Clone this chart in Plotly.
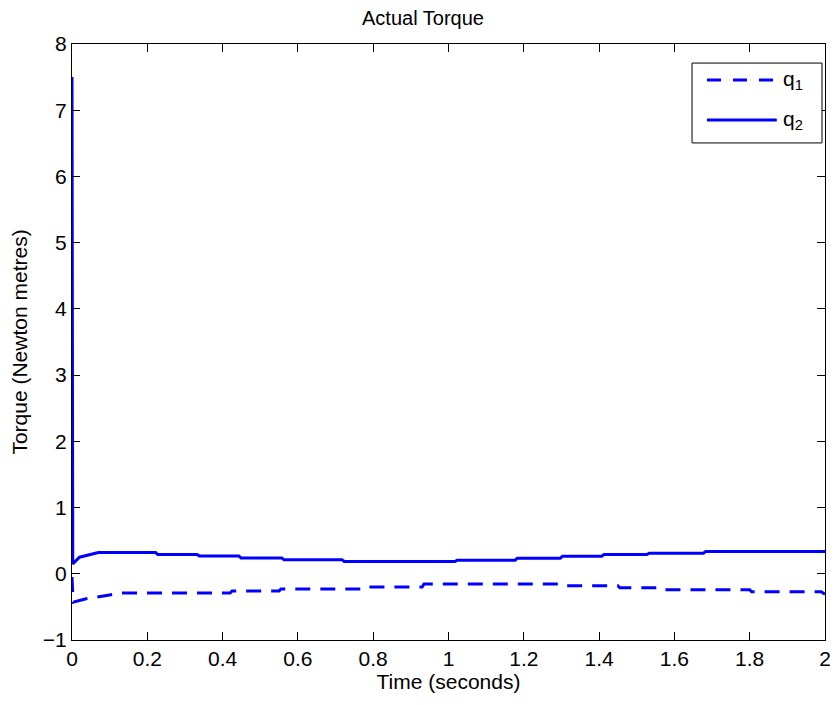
import plotly.graph_objects as go

# Joint 1 torque (dashed)
t_q1 = [0, 0.003, 0.035, 0.074, 0.10, 0.13, 0.42, 0.425, 0.55, 0.555, 0.78, 0.785, 0.93, 0.935,
        1.30, 1.305, 1.45, 1.455, 1.57, 1.575, 1.80, 1.805, 1.99, 2.0]
q1 = [-0.05, -0.43, -0.38, -0.35, -0.32, -0.29, -0.29, -0.26, -0.26, -0.23, -0.23, -0.20, -0.20, -0.155,
      -0.155, -0.18, -0.18, -0.21, -0.21, -0.24, -0.24, -0.27, -0.27, -0.31]

# Joint 2 torque (solid)
t_q2 = [0, 0.002, 0.02, 0.048, 0.07, 0.222, 0.228, 0.332, 0.338, 0.443, 0.449, 0.557, 0.563,
        0.717, 0.723, 1.017, 1.023, 1.177, 1.183, 1.297, 1.303, 1.407, 1.413, 1.527, 1.533,
        1.677, 1.683, 2.0]
q2 = [7.5, 0.15, 0.25, 0.29, 0.32, 0.32, 0.29, 0.29, 0.27, 0.27, 0.24, 0.24, 0.21,
      0.21, 0.185, 0.185, 0.205, 0.205, 0.235, 0.235, 0.265, 0.265, 0.29, 0.29, 0.31,
      0.31, 0.335, 0.335]

series_names = ["q<sub>1</sub>", "q<sub>2</sub>"]

x_ticks = [0, 0.2, 0.4, 0.6, 0.8, 1, 1.2, 1.4, 1.6, 1.8, 2]
x_labels = ["0", "0.2", "0.4", "0.6", "0.8", "1", "1.2", "1.4", "1.6", "1.8", "2"]
y_ticks = [-1, 0, 1, 2, 3, 4, 5, 6, 7, 8]

blue = "#0000ff"
font = "Liberation Sans, Arial, sans-serif"
fs = 21
dash_style = "15px,10px"

fig = go.Figure()
fig.add_trace(go.Scatter(x=t_q1, y=q1, mode="lines", name=series_names[0],
                         line=dict(color=blue, width=3, dash=dash_style)))
fig.add_trace(go.Scatter(x=t_q2, y=q2, mode="lines", name=series_names[1],
                         line=dict(color=blue, width=3)))

axis_common = dict(showline=True, linecolor="black", linewidth=1, mirror="ticks",
                   ticks="inside", ticklen=8, tickcolor="black", showgrid=False,
                   zeroline=False, automargin=False,
                   tickfont=dict(size=fs, color="black", family=font))

fig.update_layout(
    width=830, height=697,
    margin=dict(l=64, r=13, t=36, b=65),
    paper_bgcolor="white", plot_bgcolor="white",
    font=dict(family=font, color="black", size=fs),
    title=dict(text="Actual Torque", x=0.5, xanchor="center", y=0.986, yanchor="middle",
               font=dict(size=20, family=font, color="black")),
    xaxis=dict(range=[0, 2], tickvals=x_ticks, ticktext=x_labels,
               title=dict(text="Time (seconds)", standoff=4, font=dict(size=fs)), **axis_common),
    yaxis=dict(range=[-1, 8], tickvals=y_ticks,
               title=dict(text="Torque (Newton metres)", standoff=12, font=dict(size=fs)), **axis_common),
    showlegend=False,
)

# Custom legend box (paper coordinates)
bx0, bx1, by0, by1 = 0.8234, 0.996, 0.834, 0.968
fig.add_shape(type="rect", xref="paper", yref="paper", x0=bx0, x1=bx1, y0=by0, y1=by1,
              line=dict(color="black", width=1), fillcolor="white", layer="above")
leg_y = [0.9396, 0.8725]
leg_dash = ["14px,12px", "solid"]
for name, ly, dsh in zip(series_names, leg_y, leg_dash):
    fig.add_shape(type="line", xref="paper", yref="paper", x0=0.8433, x1=0.936, y0=ly, y1=ly,
                  line=dict(color=blue, width=3, dash=dsh), layer="above")
    fig.add_annotation(xref="paper", yref="paper", x=0.941, y=ly, text=name, showarrow=False,
                       xanchor="left", yanchor="middle", font=dict(size=fs, color="black", family=font))

fig.write_html("out.html")
